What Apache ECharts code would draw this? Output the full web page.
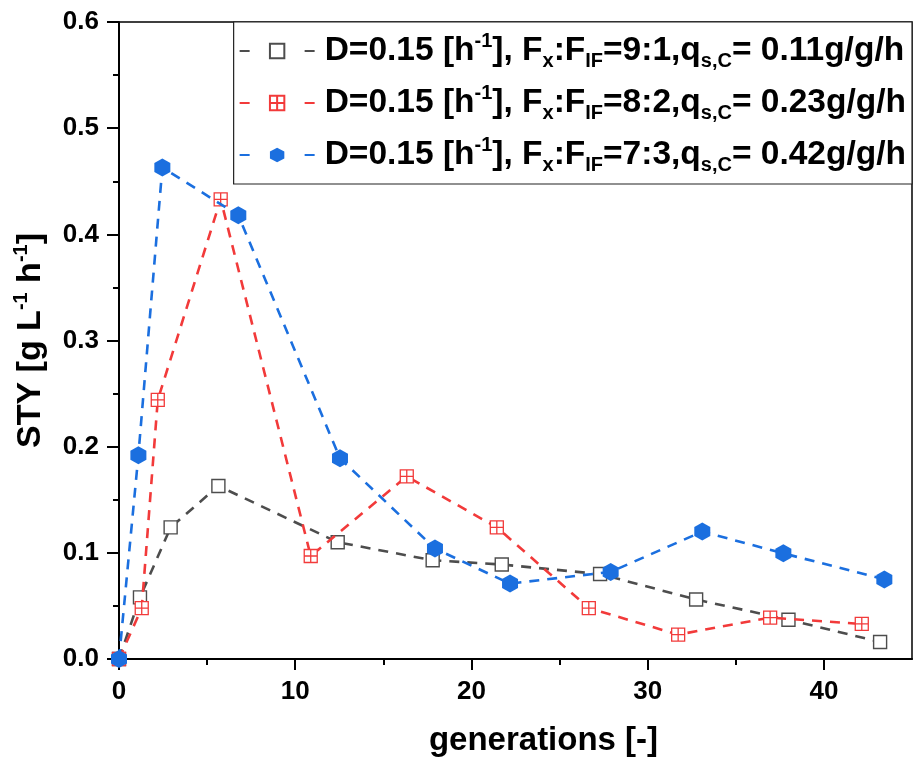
<!DOCTYPE html>
<html>
<head>
<meta charset="utf-8">
<script src="https://cdn.jsdelivr.net/npm/echarts@6/dist/echarts.min.js"></script>
<style>
html,body{margin:0;padding:0;background:#fff;}
#chart{width:913px;height:762px;}
</style>
</head>
<body>
<div id="chart"></div>
<script>
// ---- data ----
var seriesNames = ['9:1 / 0.11', '8:2 / 0.23', '7:3 / 0.42'];
var blackX = [0, 1.19, 2.93, 5.64, 12.41, 17.8, 21.72, 27.3, 32.75, 37.99, 43.19];
var blackY = [0, 0.058, 0.124, 0.163, 0.110, 0.093, 0.089, 0.080, 0.056, 0.037, 0.016];
var redX = [0, 1.29, 2.2, 5.77, 10.88, 16.33, 21.44, 26.66, 31.73, 36.95, 42.15];
var redY = [0, 0.048, 0.244, 0.433, 0.097, 0.172, 0.124, 0.048, 0.023, 0.039, 0.033];
var blueX = [0, 1.1, 2.46, 6.77, 12.54, 17.93, 22.19, 27.9, 33.1, 37.7, 43.43];
var blueY = [0, 0.192, 0.463, 0.418, 0.189, 0.104, 0.071, 0.082, 0.120, 0.0995, 0.075];
var xTicks = [0, 10, 20, 30, 40];
var xMinorTicks = [5, 15, 25, 35];
var yTicks = [0, 0.1, 0.2, 0.3, 0.4, 0.5, 0.6];
var ratios = ['9:1', '8:2', '7:3'];
var qs = ['0.11', '0.23', '0.42'];

function pairs(xs, ys) { return xs.map(function (x, i) { return [x, ys[i]]; }); }

var FONT = '"Liberation Sans", Arial, sans-serif';
var colBlack = '#4d4d4d', colRed = '#f23a3a', colBlue = '#1b6fdf';
var dash = [10, 8];

var legendLabel = {};
seriesNames.forEach(function (n, i) {
  legendLabel[n] = '{m0|D=0.15 [h}{sup|-1}{m|], F}{sub|x}{m|:F}{sub|IF}{m|=' + ratios[i] + ',q}{sub|s,C}{m|= ' + qs[i] + 'g/g/h}';
});

var chart = echarts.init(document.getElementById('chart'));
chart.setOption({
  animation: false,
  backgroundColor: '#fff',
  textStyle: { fontFamily: FONT },
  grid: { left: 119, right: 1, top: 22, bottom: 97, show: true, borderColor: '#000', borderWidth: 1.5, containLabel: false },
  legend: {
    data: seriesNames,
    orient: 'vertical',
    right: 1, top: 22,
    backgroundColor: '#fff',
    borderColor: '#222', borderWidth: 1.2,
    padding: [9, 6, 9, 5],
    itemGap: 12,
    itemWidth: 75, itemHeight: 18,
    lineStyle: { type: [10, 55] },
    formatter: function (n) { return legendLabel[n]; },
    textStyle: {
      fontFamily: FONT,
      rich: {
        m0: { fontSize: 33.5, fontWeight: 'bold', color: '#000', lineHeight: 40, fontFamily: FONT, padding: [0, 0, 0, 5] },
        m: { fontSize: 33.5, fontWeight: 'bold', color: '#000', lineHeight: 40, fontFamily: FONT },
        sup: { fontSize: 20, fontWeight: 'bold', color: '#000', lineHeight: 20, verticalAlign: 'top', fontFamily: FONT },
        sub: { fontSize: 20, fontWeight: 'bold', color: '#000', lineHeight: 20, verticalAlign: 'bottom', fontFamily: FONT }
      }
    }
  },
  xAxis: [{
    type: 'value', min: 0, max: 45, interval: 10,
    name: 'generations [-]', nameLocation: 'middle', nameGap: 65,
    nameTextStyle: { fontSize: 33, fontWeight: 'bold', color: '#000', fontFamily: FONT, padding: [0, 0, 0, 56] },
    axisLine: { show: true, onZero: false, lineStyle: { color: '#000', width: 2 } },
    axisTick: { show: true, inside: false, length: 11, lineStyle: { color: '#000', width: 2 }, customValues: xTicks },
    axisLabel: { fontSize: 26, fontWeight: 'bold', color: '#000', margin: 20, customValues: xTicks, fontFamily: FONT },
    splitLine: { show: false }
  }, {
    type: 'value', min: 0, max: 45, position: 'bottom',
    axisLine: { show: false },
    axisTick: { show: true, length: 6, lineStyle: { color: '#000', width: 2 }, customValues: xMinorTicks },
    axisLabel: { show: false },
    splitLine: { show: false }
  }],
  yAxis: {
    type: 'value', min: 0, max: 0.6, interval: 0.1,
    name: '{m|STY [g L}{sup|-1}{m| h}{sup|-1}{m|]}',
    nameLocation: 'middle', nameGap: 68, nameRotate: 90,
    nameTextStyle: {
      rich: {
        m: { fontSize: 34, fontWeight: 'bold', color: '#000', lineHeight: 40, fontFamily: FONT },
        sup: { fontSize: 20, fontWeight: 'bold', color: '#000', lineHeight: 20, verticalAlign: 'top', fontFamily: FONT }
      }
    },
    axisLine: { show: true, onZero: false, lineStyle: { color: '#000', width: 2 } },
    axisTick: { show: true, length: 12, lineStyle: { color: '#000', width: 2 } },
    minorTick: { show: true, splitNumber: 2, length: 6, lineStyle: { color: '#000', width: 2 } },
    axisLabel: { fontSize: 26, fontWeight: 'bold', color: '#000', margin: 20, fontFamily: FONT,
      customValues: yTicks,
      formatter: function (v) { return v.toFixed(1); } },
    splitLine: { show: false }
  },
  series: [{
    name: seriesNames[0], type: 'line', data: pairs(blackX, blackY),
    symbol: 'rect', symbolSize: 13,
    lineStyle: { color: colBlack, width: 2.6, type: dash },
    itemStyle: { color: '#fff', borderColor: colBlack, borderWidth: 1.4 },
    z: 2
  }, {
    name: seriesNames[1], type: 'line', data: pairs(redX, redY),
    symbol: 'path://M0,0L10,0L10,10L0,10Z M5,0L5,10 M0,5L10,5', symbolSize: 13,
    lineStyle: { color: colRed, width: 2.6, type: dash },
    itemStyle: { color: '#fff', borderColor: colRed, borderWidth: 1.3 },
    z: 3
  }, {
    name: seriesNames[2], type: 'line', data: pairs(blueX, blueY),
    symbol: 'path://M8.66,0L17.32,5L17.32,15L8.66,20L0,15L0,5Z', symbolSize: [16, 18],
    lineStyle: { color: colBlue, width: 2.6, type: dash },
    itemStyle: { color: colBlue, borderColor: colBlue, borderWidth: 0 },
    z: 4
  }]
});
</script>
</body>
</html>
